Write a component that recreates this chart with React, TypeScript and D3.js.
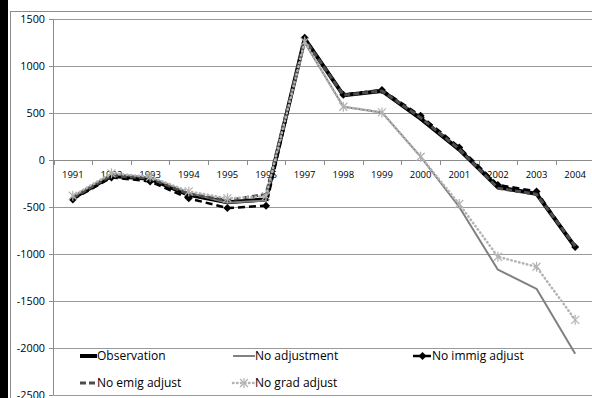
import React from "react";
import * as d3 from "d3";

const years = ["1991","1992","1993","1994","1995","1996","1997","1998","1999","2000","2001","2002","2003","2004"];
const observation = [-405, -170, -200, -370, -450, -420, 1290, 690, 735, 440, 110, -290, -360, -925];
const noAdjustment = [-395, -150, -185, -350, -455, -430, 1250, 567, 506, 35, -500, -1167, -1370, -2061];
const noImmig = [-420, -185, -228, -408, -511, -486, 1300, 695, 745, 470, 134, -265, -334, -925];
const noEmig = [-400, -165, -195, -360, -430, -365, 1285, 690, 735, 450, 115, -300, -365, -915];
const noGrad = [-380, -142, -178, -334, -408, -385, 1260, 567, 506, 35, -468, -1029, -1136, -1700];
const yTicks = [1500, 1000, 500, 0, -500, -1000, -1500, -2000, -2500];

const W = 592, H = 398;
const FONT = "'Open Sans', 'Liberation Sans', sans-serif";

export default function App() {
  const x = d3.scalePoint<string>().domain(years).range([53.5, 594.5]).padding(0.5);
  const step = x.step();
  const y = d3.scaleLinear().domain([-2500, 1500]).range([395, 19]);
  const line = (vals: number[]) =>
    d3.line<number>().x((_, i) => x(years[i]) as number).y((v) => y(v))(vals) as string;

  const boundaries = d3.range(years.length + 1).map((i) => 53.5 + i * step);

  const series = [
    { name: "Observation", vals: observation, stroke: "#000", width: 4, dash: undefined as string | undefined, cap: "butt", marker: "none" },
    { name: "No adjustment", vals: noAdjustment, stroke: "#808080", width: 2, dash: undefined, cap: "butt", marker: "none" },
    { name: "No immig adjust", vals: noImmig, stroke: "#000", width: 2.5, dash: "7,4", cap: "butt", marker: "diamond" },
    { name: "No emig adjust", vals: noEmig, stroke: "#4d4d4d", width: 3, dash: "6,3", cap: "butt", marker: "none" },
    { name: "No grad adjust", vals: noGrad, stroke: "#b3b3b3", width: 2.5, dash: "0.5,3.5", cap: "round", marker: "star" },
  ];

  const legendPos = [
    { x: 80, y: 356 },
    { x: 233, y: 356 },
    { x: 413, y: 356 },
    { x: 80, y: 383 },
    { x: 233, y: 383 },
  ];

  const marker = (kind: string, cx: number, cy: number, key: string | number) => {
    if (kind === "diamond") {
      const r = 4;
      return <path key={key} d={`M${cx},${cy - r}L${cx + r},${cy}L${cx},${cy + r}L${cx - r},${cy}Z`} fill="#000" />;
    }
    if (kind === "star") {
      const r = 4;
      return (
        <g key={key} stroke="#b3b3b3" strokeWidth={1.2}>
          <line x1={cx - r} y1={cy - r} x2={cx + r} y2={cy + r} />
          <line x1={cx - r} y1={cy + r} x2={cx + r} y2={cy - r} />
          <line x1={cx} y1={cy - r - 1} x2={cx} y2={cy + r + 1} />
        </g>
      );
    }
    return null;
  };

  return (
    <div style={{ position: "fixed", left: 0, top: 0 }}>
      <svg width={W} height={H} style={{ display: "block", background: "#fff" }}>
        <rect x={0} y={0} width={W} height={H} fill="#fff" />
        {/* chart border */}
        <line x1={10.5} y1={11} x2={10.5} y2={H} stroke="#8c8c8c" />
        <line x1={10} y1={11.5} x2={W} y2={11.5} stroke="#8c8c8c" />
        {/* gridlines */}
        {yTicks.map((t) => (
          <line key={t} x1={53.5} x2={W} y1={Math.round(y(t)) + 0.5} y2={Math.round(y(t)) + 0.5} stroke="#9a9a9a" />
        ))}
        {/* y axis */}
        <line x1={53.5} x2={53.5} y1={19} y2={395} stroke="#8c8c8c" />
        {yTicks.map((t) => (
          <g key={"yt" + t}>
            <line x1={49} x2={53.5} y1={Math.round(y(t)) + 0.5} y2={Math.round(y(t)) + 0.5} stroke="#8c8c8c" />
            <text x={45} y={y(t)} dy="0.35em" textAnchor="end" fontFamily={FONT} fontSize={10.8} fill="#000">
              {t}
            </text>
          </g>
        ))}
        {/* x axis at 0 */}
        <line x1={53.5} x2={W} y1={Math.round(y(0)) + 0.5} y2={Math.round(y(0)) + 0.5} stroke="#8c8c8c" />
        {boundaries.map((b, i) => (
          <line key={"xb" + i} x1={Math.round(b) + 0.5} x2={Math.round(b) + 0.5} y1={y(0)} y2={y(0) + 5} stroke="#8c8c8c" />
        ))}
        {years.map((yr) => (
          <text key={yr} x={x(yr)} y={175} dy="0.35em" textAnchor="middle" fontFamily={FONT} fontSize={9.5} fill="#000">
            {yr}
          </text>
        ))}
        {/* series */}
        {series.map((s) => (
          <g key={s.name}>
            <path d={line(s.vals)} fill="none" stroke={s.stroke} strokeWidth={s.width} strokeDasharray={s.dash} strokeLinecap={s.cap as any} strokeLinejoin="round" />
            {s.vals.map((v, i) => marker(s.marker, x(years[i]) as number, y(v), i))}
          </g>
        ))}
        {/* legend */}
        {series.map((s, i) => {
          const p = legendPos[i];
          const x1 = p.x, x2 = p.x + (i === 0 || i === 3 ? 17 : i === 2 ? 19 : 22);
          return (
            <g key={"lg" + s.name}>
              <line x1={x1} x2={x2} y1={p.y} y2={p.y} stroke={s.stroke} strokeWidth={s.width} strokeDasharray={s.dash} strokeLinecap={s.cap as any} />
              {marker(s.marker, (x1 + x2) / 2, p.y, "m")}
              <text x={x2} y={p.y} dy="0.35em" fontFamily={FONT} fontSize={12} fill="#000">
                {s.name}
              </text>
            </g>
          );
        })}
        {/* left black bar */}
        <rect x={0} y={0} width={8} height={H} fill="#000" />
      </svg>
    </div>
  );
}
